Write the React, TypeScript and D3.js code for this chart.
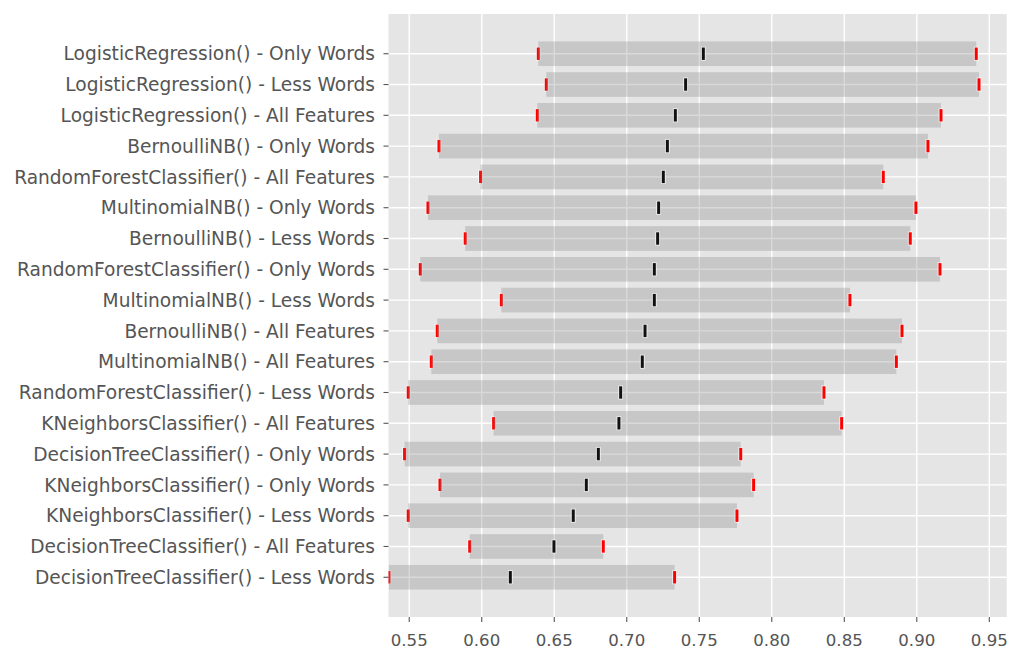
import React, { useRef, useEffect } from 'react';
import * as d3 from 'd3';

// models + feature sets, top to bottom (sorted by mean score)
const categories = [
  'LogisticRegression() - Only Words',
  'LogisticRegression() - Less Words',
  'LogisticRegression() - All Features',
  'BernoulliNB() - Only Words',
  'RandomForestClassifier() - All Features',
  'MultinomialNB() - Only Words',
  'BernoulliNB() - Less Words',
  'RandomForestClassifier() - Only Words',
  'MultinomialNB() - Less Words',
  'BernoulliNB() - All Features',
  'MultinomialNB() - All Features',
  'RandomForestClassifier() - Less Words',
  'KNeighborsClassifier() - All Features',
  'DecisionTreeClassifier() - Only Words',
  'KNeighborsClassifier() - Only Words',
  'KNeighborsClassifier() - Less Words',
  'DecisionTreeClassifier() - All Features',
  'DecisionTreeClassifier() - Less Words',
];

const minScores = [
  0.639, 0.6445, 0.6383, 0.5705, 0.5992, 0.5629, 0.5886, 0.5576, 0.6135,
  0.5693, 0.5652, 0.5493, 0.6082, 0.5468, 0.5712, 0.5493, 0.5917, 0.536,
];

const meanScores = [
  0.7528, 0.7406, 0.7335, 0.728, 0.7252, 0.722, 0.7213, 0.719, 0.719,
  0.7126, 0.7107, 0.6958, 0.6946, 0.6804, 0.6721, 0.6631, 0.6498, 0.6197,
];

const maxScores = [
  0.941, 0.9429, 0.9167, 0.9077, 0.8769, 0.8994, 0.8955, 0.916, 0.8539,
  0.8898, 0.8859, 0.836, 0.8482, 0.7786, 0.7875, 0.776, 0.6838, 0.733,
];

const xTicks = [0.55, 0.6, 0.65, 0.7, 0.75, 0.8, 0.85, 0.9, 0.95];

const W = 1024;
const H = 662;

const RangeChart = () => {
  const svgRef = useRef<SVGSVGElement>(null);

  useEffect(() => {
    if (!svgRef.current) return;
    const svg = d3.select(svgRef.current);
    svg.selectAll('*').remove();

    const left = 388.5, right = 1006.7, top = 14, bottom = 617;
    const font = '"DejaVu Sans", sans-serif';

    const x = d3.scaleLinear().domain([0.5357, 0.962]).range([left, right]);
    const y = d3.scaleBand<string>()
      .domain(categories)
      .range([top, bottom])
      .paddingInner(0.2)
      .paddingOuter(0.89);
    const yc = (c: string) => (y(c) || 0) + y.bandwidth() / 2;

    svg.append('defs').append('clipPath').attr('id', 'plot-clip')
      .append('rect')
      .attr('x', left).attr('y', top)
      .attr('width', right - left).attr('height', bottom - top);

    // panel background
    svg.append('rect')
      .attr('x', left).attr('y', top)
      .attr('width', right - left).attr('height', bottom - top)
      .attr('fill', '#e5e5e5');

    // grid
    const grid = svg.append('g').attr('stroke', '#ffffff').attr('stroke-width', 1.4);
    grid.selectAll('line.vx').data(xTicks).enter().append('line')
      .attr('x1', d => x(d)).attr('x2', d => x(d))
      .attr('y1', top).attr('y2', bottom);
    grid.selectAll('line.hy').data(categories).enter().append('line')
      .attr('x1', left).attr('x2', right)
      .attr('y1', d => yc(d)).attr('y2', d => yc(d));

    const rows = categories.map((c, i) => ({
      c, min: minScores[i], mean: meanScores[i], max: maxScores[i],
    }));

    const plot = svg.append('g').attr('clip-path', 'url(#plot-clip)');

    const tick = (g: any, v: (d: any) => number, color: string) => {
      g.selectAll(null).data(rows).enter().append('rect')
        .attr('x', (d: any) => x(v(d)) - 2.4)
        .attr('y', (d: any) => yc(d.c) - 7)
        .attr('width', 4.8).attr('height', 14)
        .attr('fill', '#ffffff').attr('opacity', 0.7);
      g.selectAll(null).data(rows).enter().append('rect')
        .attr('x', (d: any) => x(v(d)) - 1.5)
        .attr('y', (d: any) => yc(d.c) - 6.2)
        .attr('width', 3).attr('height', 12.4)
        .attr('fill', color);
    };

    // min markers sit under the translucent bar
    tick(plot, d => d.min, '#ff0000');

    plot.selectAll('rect.bar').data(rows).enter().append('rect')
      .attr('class', 'bar')
      .attr('x', d => x(d.min))
      .attr('width', d => x(d.max) - x(d.min))
      .attr('y', d => y(d.c) || 0)
      .attr('height', y.bandwidth())
      .attr('fill', '#808080')
      .attr('fill-opacity', 0.3);

    tick(plot, d => d.mean, '#111111');
    tick(plot, d => d.max, '#ff0000');

    // y axis
    const ya = svg.append('g');
    ya.selectAll('line').data(categories).enter().append('line')
      .attr('x1', left - 5).attr('x2', left)
      .attr('y1', d => yc(d)).attr('y2', d => yc(d))
      .attr('stroke', '#555555').attr('stroke-width', 1.1);
    ya.selectAll('text').data(categories).enter().append('text')
      .attr('x', left - 13.5)
      .attr('y', d => yc(d))
      .attr('dy', '0.36em')
      .attr('text-anchor', 'end')
      .attr('font-family', font)
      .attr('font-size', 18.6)
      .attr('fill', '#555555')
      .text(d => d);

    // x axis
    const xa = svg.append('g');
    xa.selectAll('line').data(xTicks).enter().append('line')
      .attr('x1', d => x(d)).attr('x2', d => x(d))
      .attr('y1', bottom).attr('y2', bottom + 5)
      .attr('stroke', '#555555').attr('stroke-width', 1.1);
    xa.selectAll('text').data(xTicks).enter().append('text')
      .attr('x', d => x(d))
      .attr('y', bottom + 29)
      .attr('text-anchor', 'middle')
      .attr('font-family', font)
      .attr('font-size', 16.6)
      .attr('fill', '#555555')
      .text(d => d3.format('.2f')(d));
  }, []);

  return (
    <div style={{ position: 'fixed', left: 0, top: 0, background: '#ffffff' }}>
      <svg ref={svgRef} width={W} height={H} />
    </div>
  );
};

export default function App() {
  return <RangeChart />;
}
